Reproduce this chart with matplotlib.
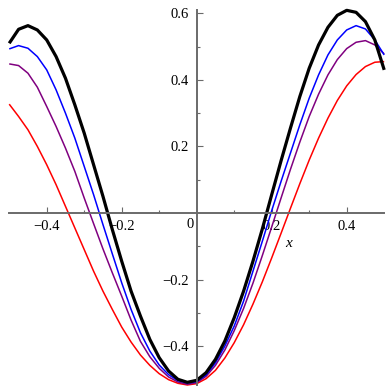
import matplotlib
matplotlib.use("Agg")
import matplotlib.pyplot as plt

# =========================
# DATA
# =========================
x_vals = [-0.5, -0.475, -0.45, -0.425, -0.4, -0.375, -0.35, -0.325, -0.3, -0.275,
          -0.25, -0.225, -0.2, -0.175, -0.15, -0.125, -0.1, -0.075, -0.05, -0.025,
          0.0, 0.025, 0.05, 0.075, 0.1, 0.125, 0.15, 0.175, 0.2, 0.225,
          0.25, 0.275, 0.3, 0.325, 0.35, 0.375, 0.4, 0.425, 0.45, 0.475, 0.5]

red = [0.327, 0.29, 0.25, 0.20, 0.145, 0.085, 0.02, -0.045, -0.11, -0.175,
       -0.235, -0.29, -0.343, -0.388, -0.427, -0.458, -0.483, -0.501, -0.512, -0.517,
       -0.513, -0.498, -0.473, -0.436, -0.39, -0.336, -0.274, -0.207, -0.135, -0.061,
       0.014, 0.088, 0.159, 0.225, 0.285, 0.338, 0.382, 0.416, 0.44, 0.453, 0.455]

purple = [0.448, 0.443, 0.42, 0.378, 0.32, 0.26, 0.195, 0.125, 0.045, -0.032,
          -0.108, -0.18, -0.25, -0.322, -0.386, -0.432, -0.467, -0.493, -0.508, -0.515,
          -0.51, -0.491, -0.458, -0.412, -0.354, -0.287, -0.211, -0.128, -0.042, 0.045,
          0.131, 0.213, 0.29, 0.357, 0.415, 0.461, 0.494, 0.513, 0.518, 0.505, 0.478]

blue = [0.493, 0.503, 0.495, 0.47, 0.43, 0.37, 0.30, 0.225, 0.14, 0.055,
        -0.035, -0.123, -0.21, -0.29, -0.36, -0.415, -0.457, -0.486, -0.504, -0.511,
        -0.507, -0.487, -0.45, -0.40, -0.34, -0.265, -0.175, -0.085, 0.007, 0.095,
        0.18, 0.265, 0.345, 0.415, 0.475, 0.52, 0.55, 0.563, 0.553, 0.52, 0.475]

black = [0.51, 0.552, 0.563, 0.55, 0.52, 0.47, 0.405, 0.325, 0.24, 0.145,
         0.05, -0.05, -0.145, -0.235, -0.31, -0.38, -0.435, -0.475, -0.50, -0.509,
         -0.503, -0.48, -0.44, -0.385, -0.315, -0.235, -0.145, -0.048, 0.055, 0.157,
         0.255, 0.35, 0.435, 0.505, 0.558, 0.594, 0.609, 0.603, 0.575, 0.52, 0.43]

x_ticks = [-0.4, -0.2, 0.2, 0.4]
x_ticklabels = ["\u22120.4", "\u22120.2", "0.2", "0.4"]
x_minor = [-0.3, -0.1, 0.1, 0.3]
y_ticks = [-0.4, -0.2, 0.2, 0.4, 0.6]
y_ticklabels = ["\u22120.4", "\u22120.2", "0.2", "0.4", "0.6"]
y_minor = [-0.5, -0.3, -0.1, 0.1, 0.3, 0.5]

# =========================
# PLOT
# =========================
plt.rcParams['font.family'] = ['Liberation Serif', 'DejaVu Serif']
axis_col = "#6a6a6a"

fig = plt.figure(figsize=(3.92, 3.92), dpi=100)
ax = fig.add_axes([0.0235, 0.0179, 0.9566, 0.9566])

line_kw = dict(clip_on=False, solid_joinstyle="round", solid_capstyle="butt")
ax.plot(x_vals, red, color="#ff0000", lw=1.1, **line_kw)
ax.plot(x_vals, purple, color="#800080", lw=1.1, **line_kw)
ax.plot(x_vals, blue, color="#0000ff", lw=1.1, **line_kw)
ax.plot(x_vals, black, color="black", lw=2.3, **line_kw)

ax.set_xlim(-0.5, 0.5)
ax.set_ylim(-0.517, 0.61)

for side in ["top", "right"]:
    ax.spines[side].set_visible(False)
for side in ["left", "bottom"]:
    ax.spines[side].set_position(("data", 0))
    ax.spines[side].set_color(axis_col)
    ax.spines[side].set_linewidth(1.4)

ax.set_xticks(x_ticks)
ax.set_xticklabels(x_ticklabels)
ax.set_xticks(x_minor, minor=True)
ax.set_yticks(y_ticks)
ax.set_yticklabels(y_ticklabels)
ax.set_yticks(y_minor, minor=True)

ax.tick_params(which="both", direction="in", color=axis_col, width=0.8,
               labelsize=10.5, labelcolor="black")
ax.tick_params(which="major", length=4)
ax.tick_params(which="minor", length=2.5)
ax.tick_params(axis="x", pad=5)
ax.tick_params(axis="y", pad=5.5)

ax.text(-0.017, -0.035, "0", fontsize=10.5, ha="center", va="center")
ax.text(0.246, -0.091, "x", fontsize=11, style="italic", ha="center", va="center")

fig.savefig("out.png", dpi=100)
